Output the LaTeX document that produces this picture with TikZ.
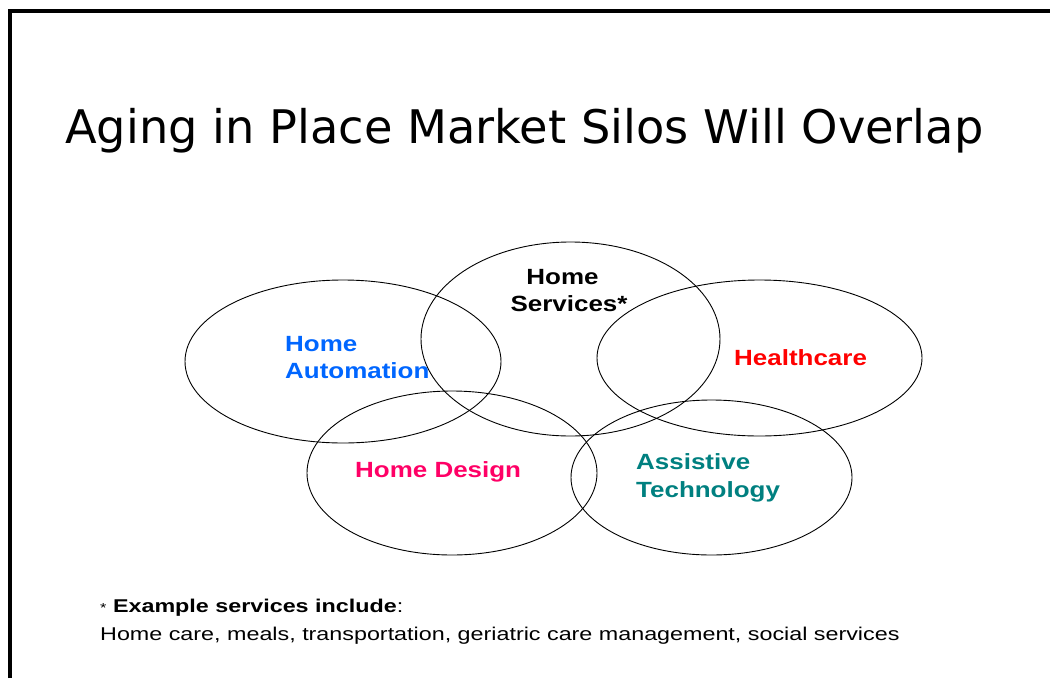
\documentclass[tikz,border=0pt]{standalone}
\usepackage{fontspec}
\setmainfont{Liberation Sans}
\newfontfamily\titlefont{DejaVu Sans}
\newfontfamily\lblfont[FakeStretch=1.18]{Liberation Sans}
\newfontfamily\notefont[FakeStretch=1.26]{Liberation Sans}
\definecolor{autoblue}{HTML}{0066FF}
\definecolor{carered}{HTML}{FF0000}
\definecolor{designpink}{HTML}{FF0066}
\definecolor{assistteal}{HTML}{008080}
\begin{document}
\begin{tikzpicture}[x=1pt,y=-1pt,
  silo/.style={draw=black,line width=0.9pt},
  lbl/.style={inner sep=0pt,font=\lblfont\fontsize{22}{26}\selectfont\bfseries},
  note/.style={inner sep=0pt,anchor=base west,font=\notefont\fontsize{18.5}{22}\selectfont}]
\useasboundingbox (0,0) rectangle (1050,678);
\fill[white] (0,0) rectangle (1050,678);
% slide frame (left and top edges)
\draw[line width=4pt] (9.5,678) -- (9.5,10.5) -- (1050,10.5);
% title
\node[inner sep=0pt,anchor=base west,font=\titlefont\fontsize{46.3}{56}\selectfont] (title) at (65,143) {Aging in Place Market Silos Will Overlap};
% market silos
\draw[silo] (343,361.5) ellipse [x radius=158,y radius=81.5];
\draw[silo] (570.5,339) ellipse [x radius=149.5,y radius=97];
\draw[silo] (759.5,358) ellipse [x radius=162.5,y radius=78];
\draw[silo] (452,473) ellipse [x radius=145,y radius=82];
\draw[silo] (711.5,477.5) ellipse [x radius=140.5,y radius=77.5];
% silo labels
\node[lbl,anchor=base] (serv1) at (562.5,284) {Home};
\node[lbl,anchor=base] (serv2) at (564,311) {Services\rlap{*}};
\node[lbl,anchor=base west,text=autoblue] (auto1) at (285,351) {Home};
\node[lbl,anchor=base west,text=autoblue] (auto2) at (285,378) {Automation};
\node[lbl,anchor=base west,text=carered] (health) at (734,365) {Healthcare};
\node[lbl,anchor=base west,text=designpink] (design) at (355,477) {Home Design};
\node[lbl,anchor=base west,text=assistteal] (assist1) at (636,469) {Assistive};
\node[lbl,anchor=base west,text=assistteal] (assist2) at (636,497) {Technology};
% footnote
\node[note] (note1) at (100,612) {{\fontsize{13}{15}\selectfont*} \textbf{Example services include}:};
\node[note] (note2) at (100,640) {Home care, meals, transportation, geriatric care management, social services};
\end{tikzpicture}
\end{document}
